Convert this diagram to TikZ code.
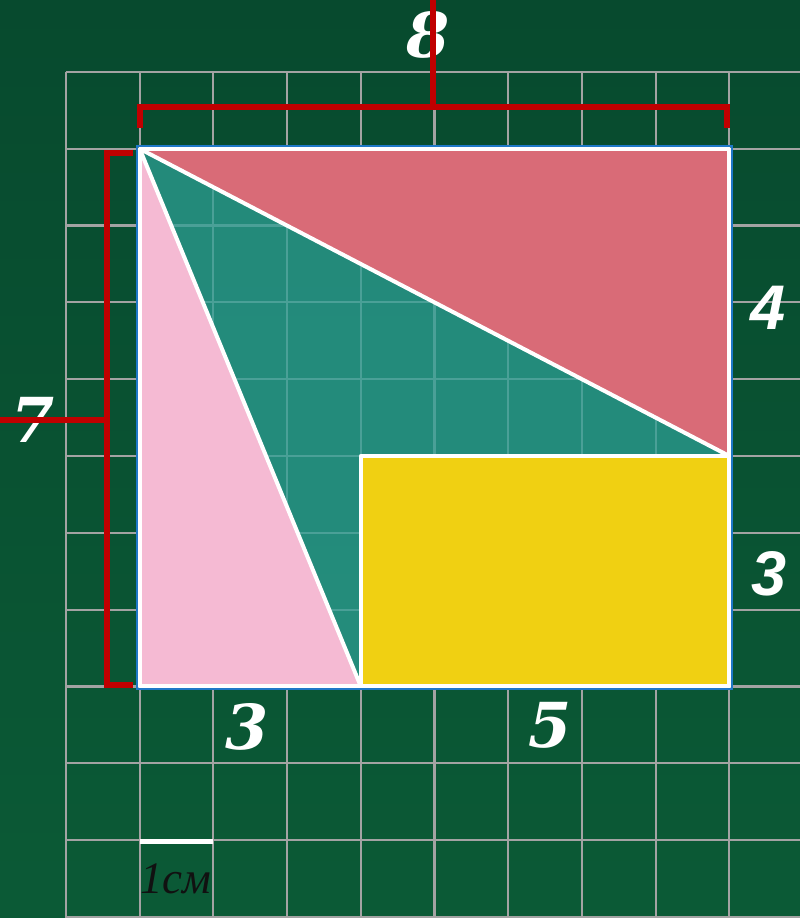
\documentclass[tikz,border=0pt]{standalone}
\usepackage{fontspec}
\newfontfamily\dimfont{DejaVu Serif}
\newfontfamily\sidefont{Liberation Sans}
\newfontfamily\unitfont{Liberation Serif}
\definecolor{boardtop}{HTML}{074A2E}
\definecolor{boardbot}{HTML}{0B5A36}
\definecolor{gridgray}{HTML}{A3A3A3}
\definecolor{dimred}{HTML}{C00000}
\definecolor{rimblue}{HTML}{1F78C8}
\definecolor{sea}{HTML}{2D9F94}
\definecolor{rose}{HTML}{D96B77}
\definecolor{blush}{HTML}{F5BAD3}
\definecolor{gold}{HTML}{F0D012}
\definecolor{ink}{HTML}{111111}
\begin{document}
\begin{tikzpicture}[x=73.7pt,y=76.8pt,
    gridline/.style={draw=gridgray,line width=2.2pt},
    dimline/.style={draw=dimred,line width=6pt},
    edge/.style={draw=white,line width=4pt,line join=round},
    serifnum/.style={text=white,font=\dimfont\bfseries\itshape\fontsize{62}{64}\selectfont},
    sansnum/.style={text=white,font=\sidefont\bfseries\itshape\fontsize{63}{65}\selectfont}]
    \useasboundingbox (-1.8955,-3.0156) rectangle (8.959,8.9375);
    \shade[top color=boardtop,bottom color=boardbot] (-1.8955,-3.0156) rectangle (8.959,8.9375);
    \foreach \i in {-1,...,8} \draw[gridline] (\i,-3.1) -- (\i,8);
    \foreach \j in {-3,...,8} \draw[gridline] (-1,\j) -- (9,\j);
    \draw[rimblue,line width=2pt] ([shift={(-3pt,-3pt)}]0,0) rectangle ([shift={(3pt,3pt)}]8,7);
    \fill[sea,fill opacity=0.75] (0,0) rectangle (8,7);
    \fill[rose] (0,7) -- (8,7) -- (8,3) -- cycle;
    \fill[blush] (0,7) -- (0,0) -- (3,0) -- cycle;
    \fill[gold] (3,0) rectangle (8,3);
    \draw[edge] (0,0) rectangle (8,7);
    \draw[edge] (0,7) -- (8,3);
    \draw[edge] (0,7) -- (3,0);
    \draw[edge] (3,0) rectangle (8,3);
    \node[serifnum] (top8) at (3.91,8.48) {8};
    \node[serifnum] (left7) at (-1.448,3.47) {7};
    \node[sansnum] (side4) at (8.525,4.93) {4};
    \node[sansnum] (side3) at (8.54,1.466) {3};
    \node[serifnum] (base3) at (1.456,-0.526) {3};
    \node[serifnum] (base5) at (5.567,-0.513) {5};
    \draw[dimline] (0.01,7.27) -- (0.01,7.544) -- (7.975,7.544) -- (7.975,7.27);
    \draw[dimline] (3.986,7.544) -- (3.986,8.94);
    \draw[dimline] (-0.09,6.95) -- (-0.444,6.95) -- (-0.444,0.012) -- (-0.09,0.012);
    \draw[dimline] (-0.444,3.475) -- (-1.9,3.475);
    \draw[white,line width=5pt] (0,-2.023) -- (1,-2.023);
    \node[text=ink,font=\unitfont\itshape\fontsize{45}{47}\selectfont] (unit) at (0.49,-2.51) {1см};
\end{tikzpicture}
\end{document}
